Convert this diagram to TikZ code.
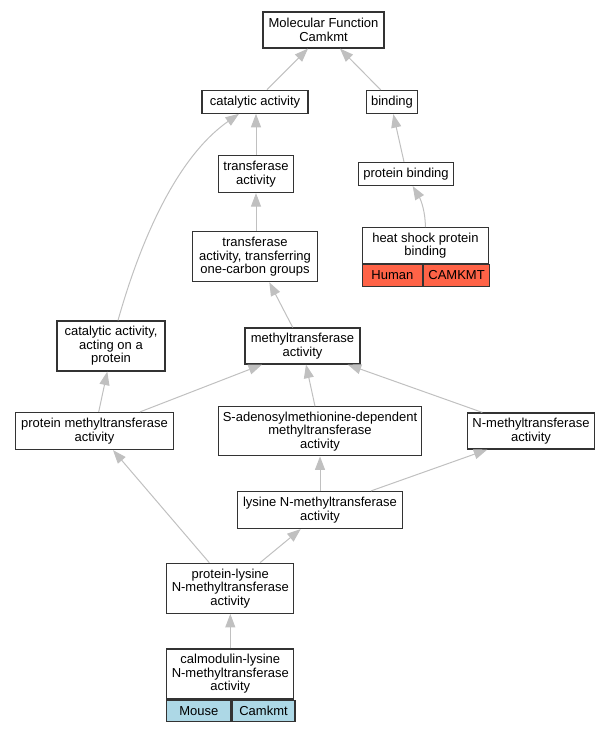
\documentclass[tikz,border=0pt]{standalone}
\usepackage{fontspec}
\setmainfont{Liberation Sans}
\usetikzlibrary{arrows.meta}
\definecolor{edgegray}{RGB}{192,192,192}
\definecolor{boxline}{RGB}{51,51,51}
\definecolor{humanred}{RGB}{255,99,71}
\definecolor{mouseblue}{RGB}{173,216,230}
\tikzset{
  gobox/.style={draw=boxline, line width=1.2pt, fill=white, inner sep=0pt, align=center,
    font=\fontsize{13}{13.6}\selectfont},
  cellbox/.style={gobox, anchor=north west},
  goedge/.style={draw=edgegray, line width=1pt, -{Triangle[length=13.5pt,width=10pt]}},
}
\begin{document}
\begin{tikzpicture}[x=1pt,y=-1pt]
\useasboundingbox (0,0) rectangle (609,731);

\node[gobox, minimum width=121pt, minimum height=36pt] (mf) at (323.5,30) {Molecular Function\\Camkmt};
\node[gobox, minimum width=106pt, minimum height=23pt] (cat) at (255,101.7) {catalytic activity};
\node[gobox, minimum width=51pt, minimum height=23pt] (bind) at (392,102) {binding};
\node[gobox, minimum width=75pt, minimum height=37pt] (trans) at (256,174) {transferase\\activity};
\node[gobox, minimum width=95pt, minimum height=23pt] (pbind) at (406,174) {protein binding};
\node[gobox, minimum width=125pt, minimum height=50pt] (tocg) at (255,256.7) {transferase\\activity, transferring\\one-carbon groups};

\node[gobox, minimum width=126pt, minimum height=35.6pt] (hsp) at (425.4,245.5) {heat shock protein\\binding};
\node[cellbox, fill=humanred, minimum width=60pt, minimum height=22pt] (hspa) at (hsp.south west) {Human};
\node[cellbox, fill=humanred, minimum width=66pt, minimum height=22pt] (hspb) at (hspa.north east) {CAMKMT};

\node[gobox, minimum width=108pt, minimum height=50pt] (cap) at (111,346) {catalytic activity,\\acting on a\\protein};
\node[gobox, minimum width=115pt, minimum height=36pt] (mt) at (302.5,346) {methyltransferase\\activity};
\node[gobox, minimum width=158pt, minimum height=37pt] (pmt) at (94.5,431) {protein methyltransferase\\activity};
\node[gobox, minimum width=203pt, minimum height=49pt] (sam) at (320,431.3) {S-adenosylmethionine-dependent\\methyltransferase\\activity};
\node[gobox, minimum width=127pt, minimum height=36pt] (nmt) at (531,431) {N-methyltransferase\\activity};
\node[gobox, minimum width=165pt, minimum height=37pt] (lnmt) at (320,510) {lysine N-methyltransferase\\activity};
\node[gobox, minimum width=127pt, minimum height=50pt] (plnmt) at (230.3,588.3) {protein-lysine\\N-methyltransferase\\activity};

\node[gobox, minimum width=127pt, minimum height=50pt] (cal) at (230.3,674) {calmodulin-lysine\\N-methyltransferase\\activity};
\node[cellbox, fill=mouseblue, minimum width=64pt, minimum height=21pt] (cala) at (cal.south west) {Mouse};
\node[cellbox, fill=mouseblue, minimum width=63pt, minimum height=21pt] (calb) at (cala.north east) {Camkmt};

% edges
\draw[goedge] ([xshift=12pt]cat.north) -- ([xshift=-15.5pt]mf.south);
\draw[goedge] ([xshift=-11.3pt]bind.north) -- ([xshift=16.5pt]mf.south);
\draw[goedge] ([xshift=0pt]trans.north) -- ([xshift=1pt]cat.south);
\draw[goedge] ([xshift=7pt]cap.north) .. controls (135,260) and (170,162) .. ([xshift=-16pt]cat.south);
\draw[goedge] ([xshift=1pt]tocg.north) -- (trans.south);
\draw[goedge] ([xshift=-2pt]pbind.north) -- ([xshift=1.3pt]bind.south);
\draw[goedge] (hsp.north) .. controls (425.4,212) and (421,200) .. ([xshift=6.7pt]pbind.south);
\draw[goedge] ([xshift=-9.8pt]mt.north) -- ([xshift=14.3pt]tocg.south);
\draw[goedge] ([xshift=4.2pt]pmt.north) -- ([xshift=-3.7pt]cap.south);
\draw[goedge] ([xshift=45.5pt]pmt.north) -- ([xshift=-40.5pt]mt.south);
\draw[goedge] ([xshift=-5pt]sam.north) -- ([xshift=3.5pt]mt.south);
\draw[goedge] ([xshift=-48.7pt]nmt.north) -- ([xshift=45.2pt]mt.south);
\draw[goedge] (lnmt.north) -- (sam.south);
\draw[goedge] ([xshift=51pt]lnmt.north) -- ([xshift=-43.7pt]nmt.south);
\draw[goedge] ([xshift=-21pt]plnmt.north) -- ([xshift=18.5pt]pmt.south);
\draw[goedge] ([xshift=29.7pt]plnmt.north) -- ([xshift=-19.3pt]lnmt.south);
\draw[goedge] (cal.north) -- (plnmt.south);
\end{tikzpicture}
\end{document}
